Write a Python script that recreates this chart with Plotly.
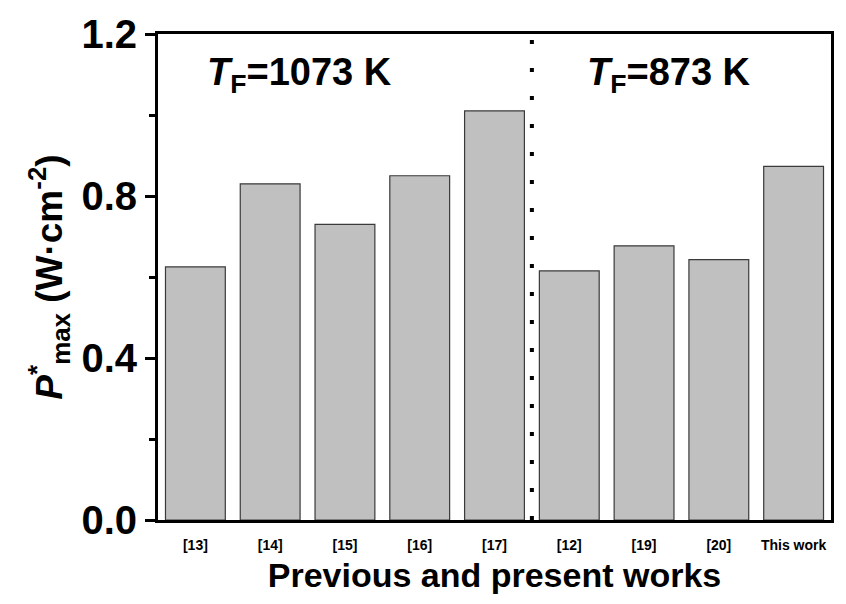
import plotly.graph_objects as go

categories = ["[13]", "[14]", "[15]", "[16]", "[17]", "[12]", "[19]", "[20]", "This work"]
pmax_values = [0.625, 0.83, 0.73, 0.85, 1.01, 0.615, 0.677, 0.643, 0.873]
y_ticks = [0.0, 0.4, 0.8, 1.2]
y_tick_labels = ["0.0", "0.4", "0.8", "1.2"]
divider_position = 4.5
group_labels = ["<i>T</i><sub>F</sub>=1073 K", "<i>T</i><sub>F</sub>=873 K"]
group_label_x = [1.39, 6.34]
group_label_y = [1.10, 1.10]

FONT = "Liberation Sans, Arial, sans-serif"
x_idx = list(range(len(categories)))

fig = go.Figure()
fig.add_trace(go.Bar(
    x=x_idx, y=pmax_values,
    marker=dict(color="#c0c0c0", line=dict(color="#3a3a3a", width=1.2)),
    width=0.8, showlegend=False,
))

fig.add_trace(go.Scatter(
    x=[divider_position, divider_position], y=[0, 1.2], mode="lines",
    line=dict(color="black", width=4, dash="4px,24px"), showlegend=False,
))

for txt, xx, yy in zip(group_labels, group_label_x, group_label_y):
    fig.add_annotation(x=xx, y=yy, text=txt, showarrow=False,
                       font=dict(family=FONT, size=38, color="black", weight="bold"),
                       xanchor="center", yanchor="middle")

fig.update_layout(
    width=846, height=604,
    margin=dict(l=158, r=13, t=29, b=84),
    paper_bgcolor="white", plot_bgcolor="white",
    bargap=0.2,
    font=dict(family=FONT, color="black"),
)

fig.update_xaxes(
    range=[-0.5, 8.5],
    tickmode="array", tickvals=x_idx, ticktext=categories,
    tickfont=dict(family=FONT, size=14, color="black", weight="bold"),
    ticklabelstandoff=10,
    showline=True, linecolor="black", linewidth=3, mirror=True,
    ticks="", showgrid=False, zeroline=False,
    title=dict(text="Previous and present works",
               font=dict(family=FONT, size=34, color="black", weight="bold"),
               standoff=12),
)

fig.update_yaxes(
    range=[0, 1.2],
    tickmode="array", tickvals=y_ticks, ticktext=y_tick_labels,
    tickfont=dict(family=FONT, size=40, color="black", weight="bold"),
    ticks="outside", ticklen=10, tickwidth=3, tickcolor="black",
    minor=dict(tickvals=[0.2, 0.6, 1.0], ticks="outside", ticklen=6, tickwidth=3, tickcolor="black"),
    showline=True, linecolor="black", linewidth=3, mirror=True,
    showgrid=False, zeroline=False,
    title=dict(text="<i>P</i><sup>*</sup><sub>max</sub> (W·cm<sup>-2</sup>)",
               font=dict(family=FONT, size=37, color="black", weight="bold"),
               standoff=8),
)

fig.write_html("out.html")
